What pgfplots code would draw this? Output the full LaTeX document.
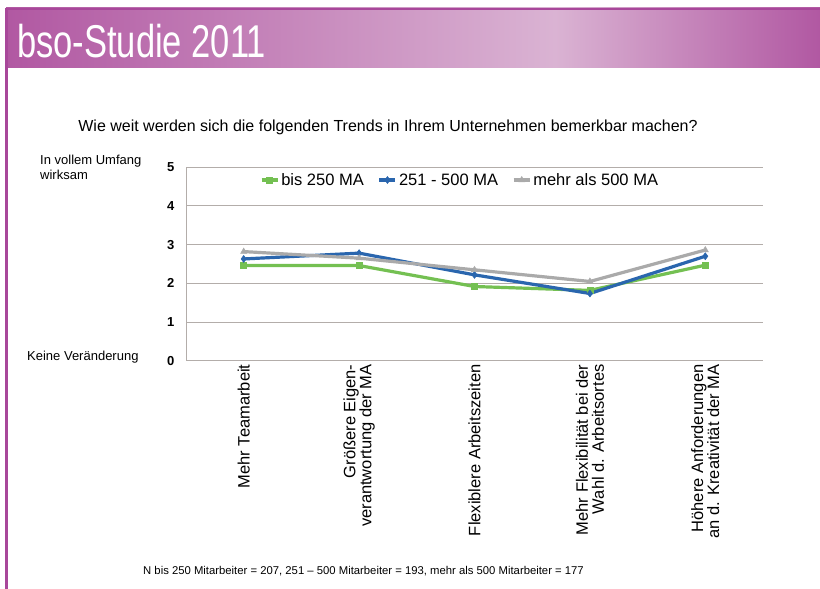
\documentclass[border=0pt]{standalone}
\usepackage{pgfplots}
\pgfplotsset{compat=1.18}
\usepackage{fontspec}
\setmainfont{Liberation Sans}
\definecolor{hdark}{HTML}{B158A2}
\definecolor{hlight}{HTML}{DAB3D3}
\definecolor{hline}{HTML}{A8479A}
\definecolor{cgreen}{HTML}{74C052}
\definecolor{cblue}{HTML}{2A66AE}
\definecolor{cgray}{HTML}{AAAAAA}
\definecolor{gridc}{HTML}{B3ADAA}
\begin{document}
\begin{tikzpicture}[x=1pt,y=1pt]
\useasboundingbox (0,0) rectangle (820,589);
\fill[white] (0,0) rectangle (820,589);
% header
\shade[left color=hdark,right color=hlight] (6,521) rectangle (555,581);
\shade[left color=hlight,right color=hdark] (555,521) rectangle (820,581);
\fill[hline] (6,579) rectangle (820,581);
\fill[hline] (5,0) rectangle (8,581);
\node[anchor=base west,inner sep=0pt,text=white] at (17,531)
  {\scalebox{0.75}[1]{\fontsize{46}{46}\selectfont bso-Studie 2011}};
% chart title
\node[anchor=base,inner sep=0pt,font=\fontsize{16}{16}\selectfont] at (388,457)
  {Wie weit werden sich die folgenden Trends in Ihrem Unternehmen bemerkbar machen?};
% side labels
\node[anchor=base west,inner sep=0pt,align=left,font=\fontsize{13}{15.5}\selectfont] at (40,409)
  {In vollem Umfang\\wirksam};
\node[anchor=base west,inner sep=0pt,font=\fontsize{13}{13}\selectfont] at (27,228)
  {Keine Veränderung};
% footnote
\node[anchor=base west,inner sep=0pt,font=\fontsize{11.3}{11.3}\selectfont] at (143,14)
  {N bis 250 Mitarbeiter = 207, 251 -- 500 Mitarbeiter = 193, mehr als 500 Mitarbeiter = 177};
\begin{axis}[
  at={(186pt,228pt)}, anchor=south west,
  scale only axis, width=577pt, height=194pt,
  xmin=-0.5, xmax=4.5, ymin=0, ymax=5,
  ytick={0,1,2,3,4,5},
  xtick=data,
  xticklabels={{Mehr Teamarbeit},{Größere Eigen-\\verantwortung der MA},{Flexiblere Arbeitszeiten},{Mehr Flexibilität bei der\\Wahl d. Arbeitsortes},{Höhere Anforderungen\\an d. Kreativität der MA}},
  xticklabel style={rotate=90,anchor=east,align=right,font=\fontsize{16.5}{16}\selectfont},
  /pgf/number format/assume math mode=true,
  yticklabel style={font=\bfseries\fontsize{13}{13}\selectfont,xshift=-8pt},
  axis x line*=bottom, axis y line*=left,
  axis line style={draw=gridc,line width=1pt,-},
  major tick length=0pt,
  ymajorgrids, grid style={draw=gridc,line width=1pt},
  legend columns=3,
  legend style={at={(0.475,0.933)},anchor=center,draw=none,fill=none,
    font=\fontsize{16.5}{16.5}\selectfont,/tikz/every even column/.append style={column sep=12pt}},
  legend image code/.code={\draw[#1] (0pt,0pt) -- (16pt,0pt) plot coordinates {(8pt,0pt)};},
]
\addplot[cgreen,line width=3.2pt,mark=square*,mark size=3pt,mark options={line width=0.5pt}]
  coordinates {(0,2.46) (1,2.46) (2,1.92) (3,1.82) (4,2.47)};
\addlegendentry{bis 250 MA}
\addplot[cblue,line width=3.2pt,mark=diamond*,mark size=3.5pt,mark options={line width=0.5pt}]
  coordinates {(0,2.63) (1,2.78) (2,2.22) (3,1.74) (4,2.70)};
\addlegendentry{251 - 500 MA}
\addplot[cgray,line width=3.2pt,mark=triangle*,mark size=3.5pt,mark options={line width=0.5pt}]
  coordinates {(0,2.82) (1,2.65) (2,2.35) (3,2.05) (4,2.86)};
\addlegendentry{mehr als 500 MA}
\end{axis}
\end{tikzpicture}
\end{document}
